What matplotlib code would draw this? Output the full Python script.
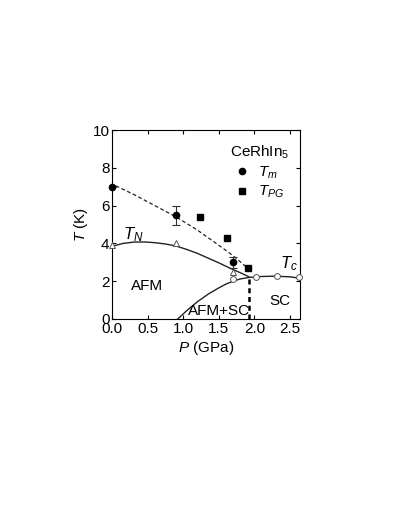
import matplotlib
matplotlib.use("Agg")
import matplotlib.pyplot as plt

# Data
tm_p = [0.0, 0.90, 1.70]
tm_t = [7.0, 5.5, 3.0]
tm_err = [0.0, 0.5, 0.3]

tpg_p = [1.23, 1.61, 1.91]
tpg_t = [5.4, 4.3, 2.7]

tn_pts_p = [0.0, 0.90, 1.70]
tn_pts_t = [3.9, 4.04, 2.5]

tc_pts_p = [1.70, 2.02, 2.31, 2.63]
tc_pts_t = [2.1, 2.24, 2.27, 2.2]

tn_line_p = [0.0, 0.15, 0.3, 0.45, 0.6, 0.75, 0.9, 1.05, 1.2, 1.35, 1.5, 1.65, 1.8, 1.92]
tn_line_t = [3.85, 4.0, 4.07, 4.08, 4.04, 3.97, 3.86, 3.68, 3.47, 3.22, 2.97, 2.7, 2.45, 2.24]

tc_line_p = [0.92, 1.05, 1.2, 1.35, 1.5, 1.6, 1.7, 1.8, 1.92, 2.1, 2.3, 2.5, 2.64]
tc_line_t = [0.0, 0.45, 0.92, 1.32, 1.65, 1.85, 2.0, 2.12, 2.2, 2.25, 2.27, 2.23, 2.16]

tm_line_p = [0.05, 0.3, 0.6, 0.9, 1.2, 1.5, 1.7, 1.88]
tm_line_t = [7.05, 6.6, 6.0, 5.4, 4.7, 3.9, 3.35, 2.77]

bound_p = [1.92, 1.92]
bound_t = [0.0, 2.2]

plt.rcParams['font.family'] = ['Liberation Sans', 'DejaVu Sans']
plt.rcParams['mathtext.fontset'] = 'custom'
plt.rcParams['mathtext.it'] = 'Liberation Sans:italic'
plt.rcParams['mathtext.rm'] = 'Liberation Sans'

fig = plt.figure(figsize=(4.09, 5.29), dpi=100)
ax = fig.add_axes([0.2745, 0.397, 0.459, 0.357])

ax.plot(tn_line_p, tn_line_t, color='#222222', lw=1.0)
ax.plot(tc_line_p, tc_line_t, color='#222222', lw=1.0)
ax.plot(tm_line_p, tm_line_t, color='#222222', lw=0.9, ls=(0, (3, 2)))
ax.plot(bound_p, bound_t, color='black', lw=1.8, ls=(0, (2, 1.5)))

ax.plot(tn_pts_p, tn_pts_t, ls='none', marker='^', ms=4.5, mfc='white', mec='#555555',
        mew=0.7, clip_on=False, zorder=4)
ax.plot(tc_pts_p, tc_pts_t, ls='none', marker='o', ms=4.2, mfc='white', mec='#555555',
        mew=0.7, clip_on=False, zorder=4)
ax.errorbar(tm_p, tm_t, yerr=tm_err, fmt='none', ecolor='#333333',
            elinewidth=0.8, capsize=3, capthick=0.8, zorder=5)
h_tm, = ax.plot(tm_p, tm_t, ls='none', marker='o', ms=4.5, color='black', label=r'$T_m$',
                clip_on=False, zorder=6)
h_pg, = ax.plot(tpg_p, tpg_t, ls='none', marker='s', ms=4.2, color='black', label=r'$T_{PG}$',
                zorder=6)

leg = ax.legend(handles=[h_tm, h_pg], loc='upper right', bbox_to_anchor=(0.99, 0.975),
                frameon=False, title=r'CeRhIn$_5$', fontsize=11, title_fontsize=11,
                handlelength=1.0, handletextpad=0.6, labelspacing=0.2, borderaxespad=0.2)
leg._legend_box.align = 'center'

ax.text(0.49, 1.76, 'AFM', fontsize=11, ha='center', va='center')
ax.text(1.50, 0.44, 'AFM+SC', fontsize=11, ha='center', va='center')
ax.text(2.36, 0.95, 'SC', fontsize=11, ha='center', va='center')
ax.text(0.29, 4.44, r'$T_N$', fontsize=12, ha='center', va='center')
ax.text(2.48, 2.95, r'$T_c$', fontsize=12, ha='center', va='center')

ax.set_xlim(0, 2.64)
ax.set_ylim(0, 10)
ax.set_xticks([0.0, 0.5, 1.0, 1.5, 2.0, 2.5])
ax.set_xticklabels(['0.0', '0.5', '1.0', '1.5', '2.0', '2.5'])
ax.set_yticks([0, 2, 4, 6, 8, 10])
ax.tick_params(direction='in', top=True, right=True, length=3, width=0.8, labelsize=11, pad=2)
for s in ax.spines.values():
    s.set_linewidth(0.8)
ax.set_xlabel(r'$P$ (GPa)', fontsize=11, labelpad=2)
ax.set_ylabel(r'$T$ (K)', fontsize=11, labelpad=2)

fig.savefig('out.png', dpi=100)
